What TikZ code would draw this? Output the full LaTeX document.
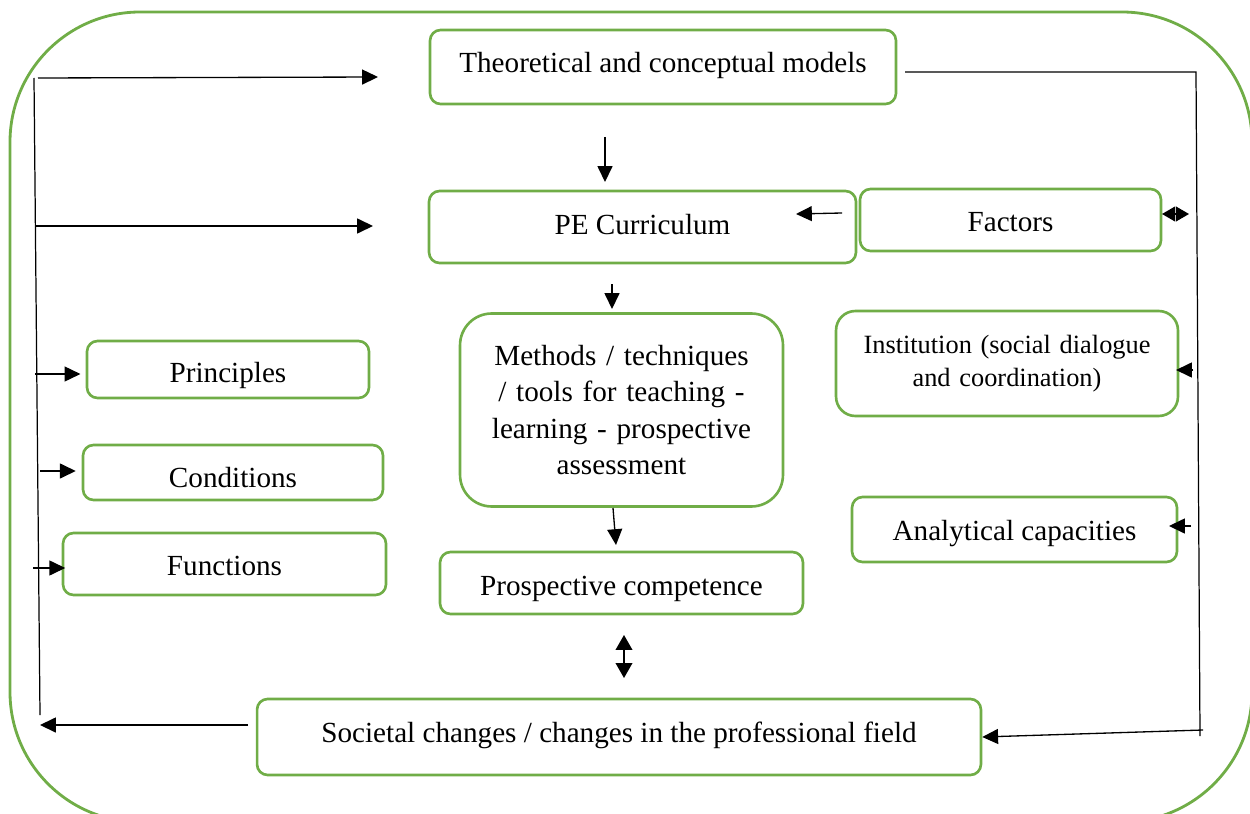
\documentclass[tikz,border=0pt]{standalone}
\usepackage{fontspec}
\setmainfont{Liberation Serif}
\usetikzlibrary{arrows.meta}
\definecolor{boxgreen}{RGB}{112,173,71}
\newcommand{\shiftt}[2]{\raisebox{#1}[\height][\depth]{#2}}
\begin{document}
\begin{tikzpicture}[x=0.02cm,y=-0.02cm,
  box/.style={draw=boxgreen, line width=1.5pt, rounded corners=6pt, inner sep=0pt, align=center, font=\fontsize{16.6}{20.7}\selectfont},
  conn/.style={line width=0.75pt, -{Triangle[length=9pt,width=8.5pt]}},
  plain/.style={line width=0.7pt}]
\useasboundingbox (0,0) rectangle (1250,814);
\begin{scope}
  \clip (0,0) rectangle (1250,814);
  \draw[boxgreen, line width=1.6pt, rounded corners=74pt] (10,12) rectangle (1252,822);
\end{scope}

% nodes
\node[box, minimum width=9.32cm, minimum height=1.48cm] (theo) at (663,67) {\shiftt{0.6pt}{Theoretical and conceptual models}};
\node[box, minimum width=8.54cm, minimum height=1.44cm] (pe) at (642.5,227) {\shiftt{1.2pt}{PE Curriculum}};
\node[box, minimum width=6.02cm, minimum height=1.24cm] (fac) at (1010.5,220) {\shiftt{-1.1pt}{Factors}};
\node[box, rounded corners=18pt, minimum width=6.46cm, minimum height=3.86cm, text width=5.9cm] (meth) at (621.5,410) {Methods / techniques\\ / tools for teaching -\\ learning - prospective\\ assessment};
\node[box, rounded corners=11pt, minimum width=6.84cm, minimum height=2.1cm, text width=6.7cm, font=\fontsize{15}{18.7}\selectfont] (inst) at (1007,363.5) {Institution (social dialogue\\ and coordination)};
\node[box, minimum width=5.64cm, minimum height=1.14cm] (prin) at (228,369.5) {\shiftt{-3.4pt}{Principles}};
\node[box, minimum width=6cm, minimum height=1.1cm] (cond) at (233,472.5) {\shiftt{-2.8pt}{Conditions}};
\node[box, minimum width=6.46cm, minimum height=1.24cm] (func) at (224.5,564) {\shiftt{-1.1pt}{Functions}};
\node[box, minimum width=6.5cm, minimum height=1.3cm] (anal) at (1014.5,529.5) {\shiftt{-2.3pt}{Analytical capacities}};
\node[box, minimum width=7.26cm, minimum height=1.24cm] (prosp) at (621.5,583) {\shiftt{-3.4pt}{Prospective competence}};
\node[box, minimum width=14.48cm, minimum height=1.52cm] (soc) at (619,737) {\shiftt{1.1pt}{Societal changes / changes in the professional field}};

% coordinates
\coordinate (lt) at (34,78);
\coordinate (lb) at (40,715);
\coordinate (a1s) at (38,78);
\coordinate (a1e) at (378,77);
\coordinate (a2s) at (36,226);
\coordinate (a2e) at (373,226);
\coordinate (pr) at (35,374);
\coordinate (cd) at (40,471);
\coordinate (fn) at (33,568);
\coordinate (bs) at (248,725);
\coordinate (be) at (40,725);
\coordinate (rt1) at (905,72);
\coordinate (rt2) at (1196,72);
\coordinate (rb) at (1200,736);
\coordinate (rbs) at (1203,730);
\coordinate (d1s) at (605,137);
\coordinate (d1e) at (605,182);
\coordinate (d2s) at (612,284);
\coordinate (d2e) at (612,309);
\coordinate (d3s) at (613,508);
\coordinate (d3e) at (616,545);
\coordinate (dbl1) at (624,635);
\coordinate (dbl2) at (624,678);
\coordinate (fs) at (842,213);
\coordinate (fe) at (796,214);
\coordinate (fd1) at (1162,214);
\coordinate (fd2) at (1189,214);
\coordinate (is) at (1193,370);
\coordinate (ie) at (1176,370);
\coordinate (as) at (1191,526);
\coordinate (ae) at (1169,526);

% left loop
\draw[plain] (lt) -- (lb);
\draw[conn] (a1s) -- (a1e);
\draw[conn] (a2s) -- (a2e);
\draw[conn, shorten >=3pt] (pr) -- (pr -| prin.west);
\draw[conn, shorten >=3.4pt] (cd) -- (cd -| cond.west);
\draw[conn, shorten >=-2pt] (fn) -- (fn -| func.west);
\draw[conn] (bs) -- (be);

% right loop
\draw[plain] (rt1) -- (rt2) -- (rb);
\draw[conn] (rbs) -- (soc.east);

% central chain
\draw[conn] (d1s) -- (d1e);
\draw[conn] (d2s) -- (d2e);
\draw[conn] (d3s) -- (d3e);
\draw[line width=0.75pt, {Triangle[length=8.5pt,width=9.5pt]}-{Triangle[length=8.5pt,width=9.5pt]}] (dbl1) -- (dbl2);
\draw[conn] (fs) -- (fe);

% right side small arrows
\draw[line width=0.75pt, {Triangle[length=7.5pt,width=8.5pt]}-{Triangle[length=7.5pt,width=8.5pt]}] (fd1) -- (fd2);
\draw[conn] (is) -- (ie);
\draw[conn] (as) -- (ae);
\end{tikzpicture}
\end{document}
